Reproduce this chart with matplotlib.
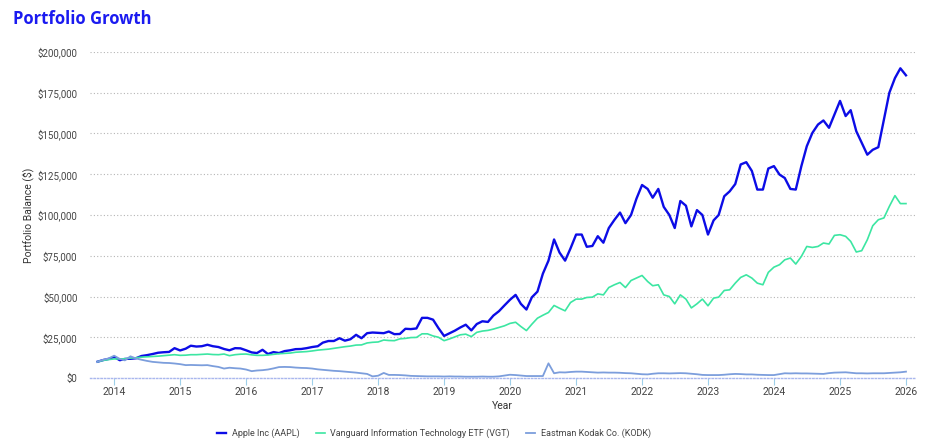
import pandas as pd
import matplotlib
matplotlib.use('Agg')
import matplotlib.pyplot as plt
import matplotlib.dates as mdates
from matplotlib.ticker import FuncFormatter

# monthly balances (in $1000), Oct 2013 .. Jan 2026
months = pd.date_range('2013-10-01', '2026-01-01', freq='MS')

aapl_k = [
    10.0, 11.0, 11.7, 12.9, 10.9, 11.7, 11.8, 12.1, 13.5, 14.0, 14.7, 15.5,
    15.8, 16.0, 18.3, 16.9, 18.0, 19.8, 19.3, 19.5, 20.4, 19.5, 19.0, 17.8,
    17.0, 18.3, 18.2, 17.0, 15.7, 15.3, 17.3, 14.7, 15.9, 15.3, 16.5, 17.0,
    17.7, 17.8, 18.3, 19.0, 19.5, 21.7, 22.7, 22.7, 24.4, 22.9, 23.8, 26.5,
    24.4, 27.5, 27.9, 27.7, 27.5, 28.5, 26.9, 27.0, 30.2, 30.0, 30.4, 36.9,
    36.9, 35.8, 30.6, 25.8, 27.5, 29.0, 31.0, 32.7, 29.2, 33.1, 34.8, 34.4,
    38.3, 41.0, 44.5, 48.0, 51.0, 45.5, 42.0, 49.5, 53.0, 64.0, 72.0, 85.0,
    77.0, 72.0, 79.5, 88.0, 88.0, 80.5, 81.0, 87.0, 83.0, 92.0, 97.0, 101.5,
    95.0, 100.0, 110.0, 118.4, 116.0, 110.6, 116.0, 105.0, 100.0, 92.0, 108.6, 105.7,
    93.0, 103.0, 100.0, 88.0, 96.7, 100.0, 111.5, 114.5, 119.0, 131.0, 132.4, 127.0,
    115.6, 115.6, 128.5, 130.0, 124.8, 122.7, 116.0, 115.6, 130.0, 142.2, 150.4, 155.5,
    158.0, 153.5, 161.7, 170.0, 160.7, 164.3, 151.4, 144.3, 137.0, 140.0, 141.6, 158.6,
    175.0, 184.0, 190.0, 185.7,
]

vgt_k = [
    10.0, 10.8, 11.3, 11.7, 11.7, 11.8, 12.2, 12.4, 12.8, 13.0, 13.2, 13.4,
    13.7, 14.0, 14.3, 13.9, 14.0, 14.3, 14.3, 14.5, 14.7, 14.4, 14.3, 14.7,
    13.7, 14.3, 14.6, 14.7, 14.2, 13.9, 13.9, 14.1, 14.5, 14.9, 15.1, 15.3,
    15.8, 16.0, 16.2, 16.6, 17.1, 17.4, 17.7, 18.2, 18.7, 19.2, 19.6, 20.2,
    20.3, 21.5, 21.9, 22.1, 23.3, 23.0, 22.9, 24.0, 24.3, 24.8, 24.9, 27.1,
    27.1, 25.8, 25.0, 22.9, 24.0, 25.2, 26.5, 26.9, 25.4, 28.0, 28.8, 29.2,
    30.0, 31.0, 32.0, 33.5, 34.2, 31.6, 29.1, 33.0, 36.7, 38.5, 40.2, 44.5,
    42.8, 41.2, 46.3, 48.4, 48.4, 49.4, 49.6, 51.6, 51.0, 55.5, 57.2, 58.6,
    55.5, 59.8, 61.3, 62.9, 59.2, 56.6, 57.2, 51.0, 50.0, 45.5, 51.0, 48.4,
    43.0, 45.5, 48.4, 44.3, 49.0, 49.6, 53.7, 54.1, 58.2, 61.7, 63.3, 61.3,
    58.2, 57.2, 64.8, 68.0, 69.5, 72.5, 73.6, 69.9, 74.6, 80.7, 80.1, 80.7,
    82.8, 82.2, 87.5, 87.9, 86.9, 83.8, 77.3, 78.1, 84.8, 93.4, 97.1, 98.2,
    105.3, 111.9, 107.0, 107.0,
]

kodk_k = [
    10.0, 11.2, 12.0, 13.7, 11.7, 10.8, 13.3, 12.0, 11.2, 10.5, 9.9, 9.6,
    9.3, 9.2, 8.9, 8.5, 7.9, 8.0, 7.9, 7.8, 7.9, 7.3, 6.8, 5.8,
    6.3, 6.0, 5.8, 5.2, 4.2, 4.6, 4.8, 5.2, 5.9, 6.7, 6.8, 6.7,
    6.4, 6.2, 6.1, 5.8, 5.3, 5.0, 4.6, 4.4, 4.2, 3.9, 3.6, 3.3,
    2.9, 2.5, 1.0, 1.4, 3.1, 1.9, 1.9, 1.8, 1.6, 1.3, 1.2, 1.1,
    1.0, 1.0, 1.0, 0.9, 1.0, 0.9, 0.9, 0.8, 0.8, 0.8, 0.9, 0.8,
    0.8, 1.0, 1.5, 2.0, 1.8, 1.5, 1.2, 1.2, 1.2, 1.2, 9.0, 2.9,
    3.5, 3.4, 3.7, 3.9, 3.9, 3.7, 3.5, 3.3, 3.4, 3.3, 3.3, 3.2,
    3.0, 2.9, 2.6, 2.3, 2.2, 2.6, 2.9, 2.9, 2.8, 2.9, 3.0, 2.9,
    2.6, 2.3, 1.9, 1.8, 1.8, 1.8, 2.0, 2.3, 2.5, 2.4, 2.2, 2.2,
    2.0, 1.9, 1.8, 1.8, 2.4, 2.9, 2.8, 2.9, 2.8, 2.8, 2.7, 2.6,
    2.5, 3.0, 3.3, 3.4, 3.5, 3.2, 2.9, 2.9, 2.8, 2.9, 2.9, 2.9,
    3.1, 3.3, 3.5, 3.9,
]

series_names = ['Apple Inc (AAPL)', 'Vanguard Information Technology ETF (VGT)',
                'Eastman Kodak Co. (KODK)']
colors = ['#0c0ce6', '#3ce6a2', '#7c9edc']
widths = [1.7, 1.2, 1.3]

plt.rcParams['font.family'] = ['Roboto', 'DejaVu Sans']

fig = plt.figure(figsize=(9.37, 4.48), dpi=100)
ax = fig.add_axes([90 / 937, 1 - 378 / 448, 825 / 937, 326 / 448])

for vals, name, c, lw in zip([aapl_k, vgt_k, kodk_k], series_names, colors, widths):
    ax.plot(months, [v * 1000 for v in vals], color=c, lw=lw, label=name,
            solid_joinstyle='round')

ax.set_ylim(0, 200000)
ax.set_xlim(pd.Timestamp('2013-08-20'), pd.Timestamp('2026-02-20'))
ax.yaxis.set_major_locator(plt.MultipleLocator(25000))
ax.yaxis.set_major_formatter(FuncFormatter(lambda v, p: f'${v:,.0f}'))
ax.xaxis.set_major_locator(mdates.YearLocator())
ax.xaxis.set_major_formatter(mdates.DateFormatter('%Y'))

ax.grid(axis='y', color='#b5b5b5', linestyle=(0, (1, 2)), lw=0.8)
ax.set_axisbelow(True)
for s in ['top', 'right', 'left']:
    ax.spines[s].set_visible(False)
ax.spines['bottom'].set_color('#a9b7ee')
ax.spines['bottom'].set_linestyle((0, (1, 1.5)))
ax.spines['bottom'].set_linewidth(1.0)

ax.tick_params(axis='y', length=0, pad=9, labelsize=7, labelcolor='#444444')
ax.tick_params(axis='x', length=5, width=0.8, color='#9fd0ea', pad=1.5,
               labelsize=7.5, labelcolor='#444444')

ax.set_ylabel('Portfolio Balance ($)', fontsize=7.5, color='#333333')
ax.yaxis.set_label_coords(-56 / 825, 0.5)
ax.set_xlabel('Year', fontsize=7.5, color='#333333', labelpad=3)

fig.text(13 / 937, 1 - 19 / 448, 'Portfolio Growth', fontsize=12, fontweight='bold',
         color='#1a1af0', va='center', ha='left', family=['Open Sans', 'DejaVu Sans'])

leg = fig.legend(loc='center', bbox_to_anchor=(434 / 937, 1 - 433 / 448), ncol=3,
                 frameon=False, fontsize=6.5, handlelength=1.0, handletextpad=0.6,
                 columnspacing=1.8)
for t in leg.get_texts():
    t.set_color('#444444')

fig.savefig('out.png', dpi=100)
